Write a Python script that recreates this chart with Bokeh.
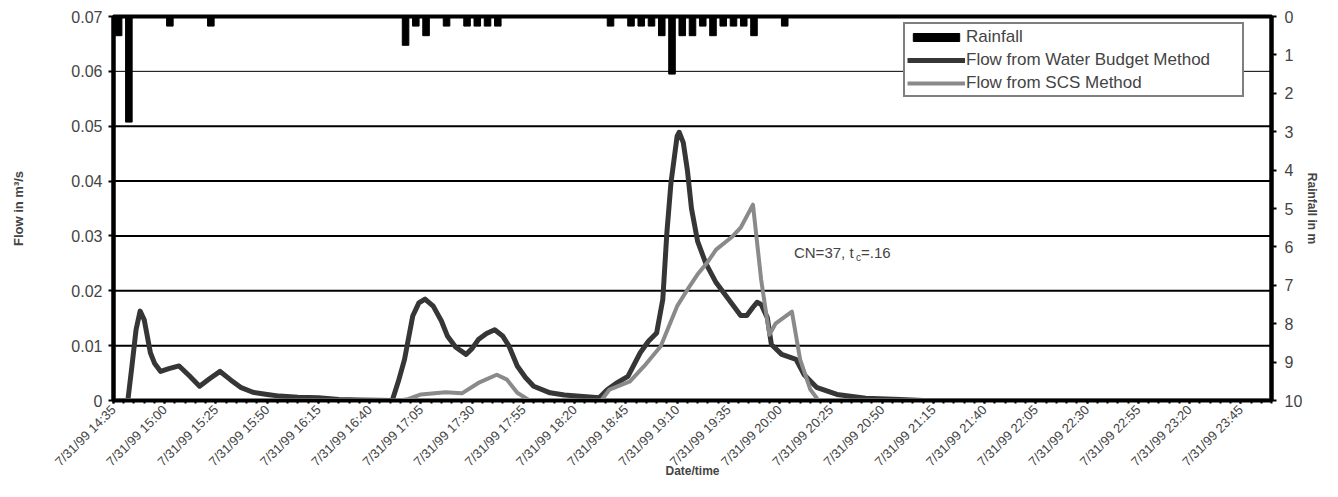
import math
from bokeh.plotting import figure
from bokeh.models import (Range1d, LinearAxis, FixedTicker, Span, Legend, LegendItem,
                          Label, NumeralTickFormatter)
from bokeh.embed import file_html
from bokeh.resources import INLINE

# ---------------- data ----------------
tick_labels = ["7/31/99 14:35", "7/31/99 15:00", "7/31/99 15:25", "7/31/99 15:50",
               "7/31/99 16:15", "7/31/99 16:40", "7/31/99 17:05", "7/31/99 17:30",
               "7/31/99 17:55", "7/31/99 18:20", "7/31/99 18:45", "7/31/99 19:10",
               "7/31/99 19:35", "7/31/99 20:00", "7/31/99 20:25", "7/31/99 20:50",
               "7/31/99 21:15", "7/31/99 21:40", "7/31/99 22:05", "7/31/99 22:30",
               "7/31/99 22:55", "7/31/99 23:20", "7/31/99 23:45"]

rain_times = ["14:35", "14:40", "15:00", "15:20", "16:55", "17:00", "17:05", "17:15",
              "17:25", "17:30", "17:35", "17:40", "18:35", "18:45", "18:50", "18:55",
              "19:00", "19:05", "19:10", "19:15", "19:20", "19:25", "19:30", "19:35",
              "19:40", "19:45", "20:00"]
rain_mm = [0.5, 2.75, 0.25, 0.25, 0.75, 0.25, 0.5, 0.25,
           0.25, 0.25, 0.25, 0.25, 0.25, 0.25, 0.25, 0.25,
           0.5, 1.5, 0.5, 0.5, 0.25, 0.5, 0.25, 0.25,
           0.25, 0.5, 0.25]

wb_times = ["14:35", "14:42", "14:44", "14:46", "14:48", "14:50", "14:53", "14:55",
            "14:58", "15:02", "15:07", "15:12", "15:17", "15:22", "15:27", "15:32",
            "15:37", "15:43", "15:50", "15:56", "16:05", "16:15", "16:25", "16:35",
            "16:51", "16:54", "16:57", "17:01", "17:04", "17:07", "17:11", "17:15",
            "17:18", "17:22", "17:27", "17:30", "17:33", "17:37", "17:41", "17:45",
            "17:48", "17:52", "17:56", "18:00", "18:08", "18:15", "18:21", "18:32",
            "18:36", "18:41", "18:46", "18:52", "18:56", "19:00", "19:03", "19:05",
            "19:07", "19:10", "19:11", "19:13", "19:15", "19:17", "19:20", "19:24",
            "19:29", "19:33", "19:37", "19:41", "19:44", "19:47", "19:49", "19:51",
            "19:54", "19:56", "20:01", "20:08", "20:12", "20:18", "20:28", "20:42",
            "20:59", "21:10", "24:00"]
wb_flow = [0.0, 0.0, 0.0063, 0.0129, 0.0163, 0.0147, 0.0087, 0.0068,
           0.0053, 0.0058, 0.0063, 0.0045, 0.0026, 0.0040, 0.0053, 0.0038,
           0.0024, 0.0015, 0.0011, 0.0008, 0.0006, 0.0005, 0.0002, 0.0001,
           0.0, 0.0035, 0.0075, 0.0154, 0.0178, 0.0185, 0.0172, 0.0145,
           0.0117, 0.0097, 0.0084, 0.0095, 0.0111, 0.0122, 0.0129, 0.0117,
           0.0099, 0.0063, 0.0042, 0.0026, 0.0014, 0.0010, 0.0008, 0.0005,
           0.0020, 0.0033, 0.0044, 0.0087, 0.0108, 0.0123, 0.0184, 0.0306,
           0.0397, 0.0482, 0.0489, 0.0470, 0.0420, 0.0350, 0.0290, 0.0250,
           0.0215, 0.0195, 0.0175, 0.0155, 0.0155, 0.0170, 0.0179, 0.0175,
           0.0151, 0.0102, 0.0084, 0.0075, 0.0047, 0.0024, 0.0011, 0.0004,
           0.0002, 0.0, 0.0]

scs_times = ["14:35", "16:55", "16:59", "17:05", "17:17", "17:25", "17:33", "17:42",
             "17:47", "17:52", "17:58", "18:33", "18:37", "18:47", "18:54", "19:02",
             "19:10", "19:15", "19:20", "19:25", "19:29", "19:37", "19:41", "19:47",
             "19:51", "19:55", "19:58", "20:06", "20:10", "20:15", "20:19", "24:00"]
scs_flow = [0.0, 0.0, 0.0003, 0.0011, 0.0015, 0.0013, 0.0032, 0.0047,
            0.0038, 0.0014, 0.0, 0.0, 0.0020, 0.0035, 0.0063, 0.0099,
            0.0172, 0.0202, 0.0230, 0.0253, 0.0275, 0.0299, 0.0315, 0.0357,
            0.0220, 0.0120, 0.0140, 0.0162, 0.0075, 0.0020, 0.0, 0.0]

flow_ticks = [0, 0.01, 0.02, 0.03, 0.04, 0.05, 0.06, 0.07]
rain_ticks = [0, 1, 2, 3, 4, 5, 6, 7, 8, 9, 10]


def mins(t):
    h, m = map(int, t.split(":"))
    return h * 60 + m - (14 * 60 + 35)


FONT = "Liberation Sans"

p = figure(width=1322, height=481, output_backend="svg", toolbar_location=None,
           x_range=Range1d(0, 565), y_range=Range1d(0, 0.07),
           min_border_left=113, min_border_right=44, min_border_top=16, min_border_bottom=80,
           background_fill_color="white", border_fill_color="white")
p.xgrid.visible = False
p.ygrid.visible = False
p.outline_line_color = "black"
p.outline_line_width = 4

# grid lines
for v in flow_ticks[1:-1]:
    p.add_layout(Span(location=v, dimension="width", line_color="black",
                      line_width=1 if v > 0.055 else 2, level="underlay"))

# rain on inverted right axis
p.extra_y_ranges = {"rain": Range1d(10, 0)}
rain_x = [mins(t) + 2.5 for t in rain_times]
bars = p.vbar(x=rain_x, top=rain_mm, bottom=0, width=3.2, y_range_name="rain",
              fill_color="black", line_color="black")

wb = p.line([mins(t) for t in wb_times], wb_flow, line_width=5, line_color="#363636",
            line_join="round")
scs = p.line([mins(t) for t in scs_times], scs_flow, line_width=4, line_color="#8a8a8a",
             line_join="round")

# x axis
major_x = [25 * i for i in range(len(tick_labels))]
xa = p.xaxis[0]
xa.ticker = FixedTicker(ticks=major_x, minor_ticks=list(range(0, 566, 5)))
xa.major_label_overrides = {xv: lab for xv, lab in zip(major_x, tick_labels)}
xa.major_label_orientation = math.pi / 4
xa.major_label_text_font = FONT
xa.major_label_text_font_size = "13px"
xa.major_label_standoff = 4
xa.major_tick_in = 0
xa.major_tick_out = 3
xa.minor_tick_in = 0
xa.minor_tick_out = 3
xa.major_tick_line_width = 2
xa.minor_tick_line_width = 2
xa.axis_line_width = 3
xa.axis_label = "Date/time"
xa.axis_label_text_font = FONT
xa.axis_label_text_font_style = "bold"
xa.axis_label_text_font_size = "12px"
xa.axis_label_standoff = -13

ya = p.yaxis[0]
ya.ticker = FixedTicker(ticks=flow_ticks)
ya.formatter = NumeralTickFormatter(format="0.[00]")
ya.major_label_text_font = FONT
ya.major_label_text_font_size = "16px"
ya.major_label_standoff = 6
ya.major_tick_in = 0
ya.major_tick_out = 5
ya.major_tick_line_width = 2
ya.minor_tick_out = 0
ya.minor_tick_in = 0
ya.axis_line_width = 4
ya.axis_label = "Flow in m³/s"
ya.axis_label_text_font = FONT
ya.axis_label_text_font_style = "bold"
ya.axis_label_text_font_size = "13px"
ya.axis_label_standoff = 42

ra = LinearAxis(y_range_name="rain", ticker=FixedTicker(ticks=rain_ticks))
ra.major_label_text_font = FONT
ra.major_label_text_font_size = "16px"
ra.major_label_standoff = 8
ra.major_tick_in = 0
ra.major_tick_out = 5
ra.major_tick_line_width = 2
ra.minor_tick_out = 0
ra.minor_tick_in = 0
ra.axis_line_width = 4
ra.axis_label = "Rainfall in m"
ra.axis_label_text_font = FONT
ra.axis_label_text_font_style = "bold"
ra.axis_label_text_font_size = "12px"
ra.axis_label_standoff = 0
p.add_layout(ra, "right")

legend = Legend(items=[LegendItem(label="Rainfall", renderers=[bars]),
                       LegendItem(label="Flow from Water Budget Method", renderers=[wb]),
                       LegendItem(label="Flow from SCS Method", renderers=[scs])],
                location=(790, 303), border_line_color="black", border_line_width=2,
                background_fill_color="white", background_fill_alpha=1,
                label_text_font=FONT, label_text_font_size="17px",
                glyph_width=58, glyph_height=10, label_standoff=1, spacing=2,
                padding=2, margin=0, label_height=21, label_width=274)
p.add_layout(legend)

# annotation CN=37, t_c=.16
ax, ay = 332, 0.0269
p.add_layout(Label(x=ax, y=ay, text="CN=37, t", text_font=FONT, text_font_size="15px",
                   text_baseline="middle"))
p.add_layout(Label(x=ax, y=ay, x_offset=62, y_offset=-5, text="c", text_font=FONT,
                   text_font_size="10px", text_baseline="middle"))
p.add_layout(Label(x=ax, y=ay, x_offset=67, text="=.16", text_font=FONT,
                   text_font_size="15px", text_baseline="middle"))

open("out.html", "w").write(file_html(p, INLINE))
